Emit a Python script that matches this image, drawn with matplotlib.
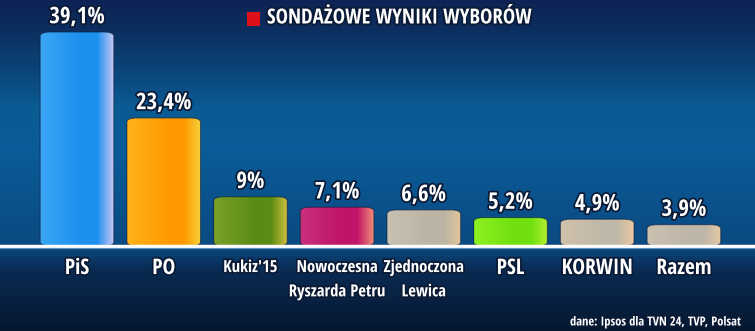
import numpy as np
import matplotlib.pyplot as plt
import matplotlib.patheffects as pe
from matplotlib import font_manager
from matplotlib.patches import FancyBboxPatch, Rectangle
from matplotlib.colors import LinearSegmentedColormap

# Dane sondażu
partie = ["PiS", "PO", "Kukiz'15", "Nowoczesna\nRyszarda Petru", "Zjednoczona\nLewica",
          "PSL", "KORWIN", "Razem"]
wyniki = [39.1, 23.4, 9.0, 7.1, 6.6, 5.2, 4.9, 3.9]
etykiety = ["39,1%", "23,4%", "9%", "7,1%", "6,6%", "5,2%", "4,9%", "3,9%"]
rozmiar_nazw = [15.5, 15.5, 12, 12, 12, 15.5, 15.5, 15.5]

# Kolory słupków: lewa krawędź, środek, prawa krawędź
kolory = [
    ("#3aa6f5", "#1d90ee", "#c4c6f4"),
    ("#ffb21a", "#ff9a00", "#f5d03a"),
    ("#7aa028", "#5a8c14", "#d4c040"),
    ("#c8307a", "#c01468", "#f08a78"),
    ("#c8c0b0", "#bcb4a4", "#e2c49c"),
    ("#8ef020", "#70e010", "#b4f030"),
    ("#d0c2ac", "#c0b8a8", "#e6c8a0"),
    ("#ccc0b0", "#beb6a8", "#e4c8a4"),
]

nazwy = {f.name for f in font_manager.fontManager.ttflist}
FONT = [n for n in ["Liberation Sans Narrow", "Open Sans Condensed", "Roboto Condensed",
                    "DejaVu Sans"] if n in nazwy] or ["DejaVu Sans"]
STRETCH = "condensed"
obrys = [pe.withStroke(linewidth=2.5, foreground="#0a1a35")]

fig = plt.figure(figsize=(7.55, 3.31), dpi=100)

# Tło z pionowym gradientem
bg = fig.add_axes([0, 0, 1, 1])
bg.set_axis_off()
grad = LinearSegmentedColormap.from_list("tlo", [
    (0.0, "#061830"), (0.18, "#0a2a52"), (0.26, "#0a4a82"), (0.55, "#0a5c98"),
    (0.68, "#0a5a93"), (0.82, "#0b3f72"), (0.93, "#0c2c5c"), (1.0, "#0e2356")])
bg.imshow(np.linspace(0, 1, 256).reshape(-1, 1), aspect="auto", cmap=grad,
          extent=[0, 1, 0, 1], origin="lower")
bg.set_xlim(0, 1)
bg.set_ylim(0, 1)

ax = fig.add_axes([0, 0, 1, 1])
ax.set_axis_off()
ax.patch.set_alpha(0)

x = np.arange(len(partie))
szer = 0.85
slupki = ax.bar(x, wyniki, width=szer, color="none", edgecolor="none")

for i, b in enumerate(slupki):
    x0, w, h = b.get_x(), b.get_width(), b.get_height()
    ksztalt = FancyBboxPatch((x0, 0), w, h,
                             boxstyle="round,pad=0,rounding_size=0.12",
                             mutation_aspect=1 / 0.16,
                             facecolor="none", edgecolor="none")
    ax.add_patch(ksztalt)
    cm = LinearSegmentedColormap.from_list(
        "b%d" % i, [(0, kolory[i][0]), (0.55, kolory[i][1]), (0.78, kolory[i][1]), (1, kolory[i][2])])
    im = ax.imshow(np.linspace(0, 1, 64).reshape(1, -1), cmap=cm, aspect="auto",
                   extent=[x0, x0 + w, 0, h], zorder=2)
    im.set_clip_path(ksztalt)
    ax.add_patch(FancyBboxPatch((x0, 0), w, h,
                                boxstyle="round,pad=0,rounding_size=0.12",
                                mutation_aspect=1 / 0.16,
                                facecolor="none", edgecolor="#0a2040", linewidth=0.8,
                                alpha=0.6, zorder=3))
    ax.text(x0 + w / 2, h + 2.7, etykiety[i], ha="center", va="center",
            fontsize=16.5, fontweight="bold", color="white", family=FONT,
            fontstretch=STRETCH, path_effects=obrys, zorder=5)
    ax.text(x0 + w / 2, -2.2, partie[i], ha="center", va="top",
            fontsize=rozmiar_nazw[i], fontweight="bold", color="white", family=FONT,
            fontstretch=STRETCH, linespacing=1.45, path_effects=obrys, zorder=5)

ax.set_xlim(-0.888, 7.82)
ax.set_ylim(-15.53, 44.95)

# Linia bazowa
ax.axhline(0, color="white", linewidth=2.5, zorder=4)
ax.axhline(-0.4, color="#6fa8d8", linewidth=1, alpha=0.6, zorder=4)

# Tytuł z czerwonym kwadratem
fig.patches.append(Rectangle((247 / 755, 1 - 26 / 331), 13 / 755, 14 / 331,
                             transform=fig.transFigure, facecolor="#e0101a",
                             edgecolor="none", zorder=6))
fig.text(267 / 755, 1 - 18 / 331, "SONDAŻOWE WYNIKI WYBORÓW", ha="left", va="center",
         fontsize=15, fontweight="bold", color="white", family=FONT,
         fontstretch=STRETCH, path_effects=obrys, zorder=6)

# Źródło
fig.text(742 / 755, 1 - 322 / 331, "dane: Ipsos dla TVN 24, TVP, Polsat", ha="right",
         va="center", fontsize=9, fontweight="bold", color="white", family=FONT,
         fontstretch=STRETCH,
         path_effects=[pe.withStroke(linewidth=1.8, foreground="#0a1a35")], zorder=6)

fig.savefig("out.png", dpi=100)
